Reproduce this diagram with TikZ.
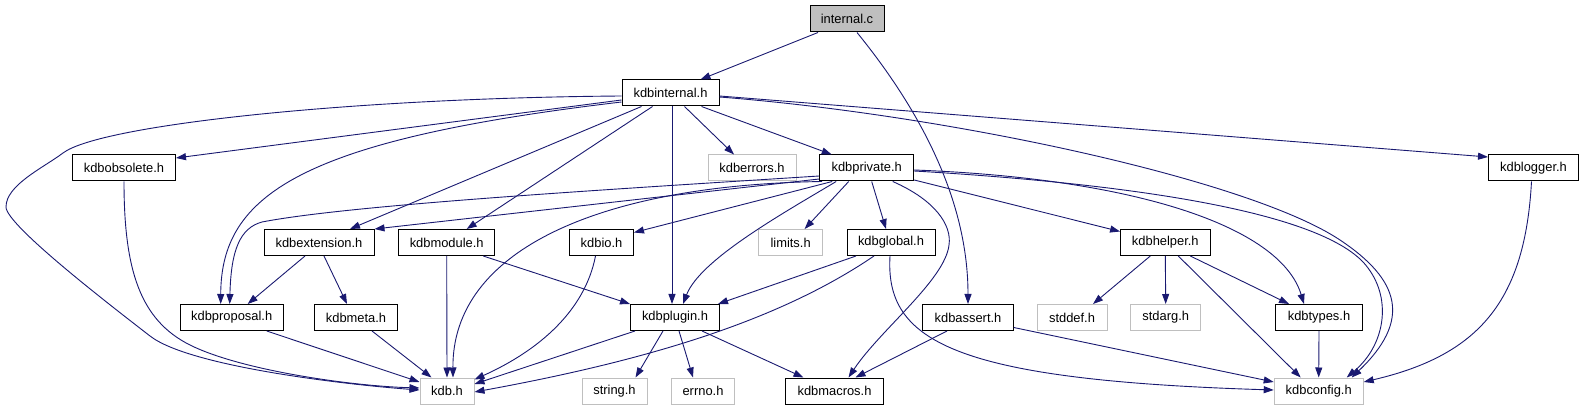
\documentclass[tikz,border=0pt]{standalone}
\usepackage{fontspec}
\setmainfont{Liberation Sans}
\usetikzlibrary{arrows.meta,calc}
\definecolor{edgec}{HTML}{191970}
\definecolor{extc}{HTML}{BFBFBF}
\begin{document}
\begin{tikzpicture}[x=1pt,y=-1pt,
  hdr/.style={draw=black, line width=1pt, rectangle, minimum height=26pt, inner sep=0pt, font=\fontsize{12.9}{15}\selectfont, text=black},
  ext/.style={hdr, draw=extc},
  root/.style={hdr, fill=extc},
  dep/.style={draw=edgec, line width=0.9pt, -{Triangle[length=10pt,width=7pt]}}
]
\useasboundingbox (0,0) rectangle (1584,411);
% row 1
\node[root, minimum width=74pt] (ic) at (847,19) {internal.c};
% row 2
\node[hdr, minimum width=97pt] (ki) at (670.5,93) {kdbinternal.h};
% row 3
\node[hdr, minimum width=103pt] (ko) at (124,168) {kdbobsolete.h};
\node[ext, minimum width=88pt] (ke) at (752,168) {kdberrors.h};
\node[hdr, minimum width=94pt] (kp) at (866.7,168) {kdbprivate.h};
\node[hdr, minimum width=90pt] (kl) at (1533.5,168) {kdblogger.h};
% row 4
\node[hdr, minimum width=110pt] (kx) at (319,242.5) {kdbextension.h};
\node[hdr, minimum width=96pt] (km) at (446.7,242.5) {kdbmodule.h};
\node[hdr, minimum width=64pt] (kio) at (601.5,242.5) {kdbio.h};
\node[ext, minimum width=64pt] (lim) at (790.6,242.5) {limits.h};
\node[hdr, minimum width=88pt] (kg) at (891,242.5) {kdbglobal.h};
\node[hdr, minimum width=89.5pt] (kh) at (1165.3,242.5) {kdbhelper.h};
% row 5
\node[hdr, minimum width=103pt] (kpr) at (231.7,317.5) {kdbproposal.h};
\node[hdr, minimum width=83pt] (kme) at (356,317.5) {kdbmeta.h};
\node[hdr, minimum width=89pt] (kpl) at (675,317.5) {kdbplugin.h};
\node[hdr, minimum width=90.5pt] (ka) at (968,317.5) {kdbassert.h};
\node[ext, minimum width=70pt] (sdd) at (1072,317.5) {stddef.h};
\node[ext, minimum width=69.5pt] (sda) at (1165.7,317.5) {stdarg.h};
\node[hdr, minimum width=87pt] (kt) at (1319,317.5) {kdbtypes.h};
% row 6
\node[ext, minimum width=54pt] (kdb) at (447,391) {kdb.h};
\node[ext, minimum width=65pt] (str) at (614.5,391) {string.h};
\node[ext, minimum width=62.5pt] (err) at (703,391) {errno.h};
\node[hdr, minimum width=97.5pt] (kma) at (834.5,391) {kdbmacros.h};
\node[ext, minimum width=89pt] (kc) at (1318.7,391) {kdbconfig.h};

% internal.c
\draw[dep] ($(ic.south)+(-29,0)$) -- ($(ki.north)+(30,0)$);
\draw[dep] ($(ic.south)+(10,0)$) .. controls (920,110) and (968,200) .. (ka.north);

% kdbinternal.h
\draw[dep] ($(ki.west)+(0,3)$) .. controls (350,98) and (100,125) .. (63,153)
  .. controls (43,168) and (6,185) .. (6,207)
  .. controls (6,225) and (110,305) .. (150,336)
  .. controls (190,367) and (350,385) .. ($(kdb.west)+(0,-1)$);
\draw[dep] ($(ki.west)+(0,7)$) -- ($(ko.east)+(0,-10)$);
\draw[dep] ($(ki.west)+(0,9)$) .. controls (300,140) and (221,195) .. ($(kpr.north)+(-11,0)$);
\draw[dep] ($(ki.south west)+(20,0)$) -- ($(kx.north)+(31,0)$);
\draw[dep] ($(ki.south west)+(31,0)$) -- ($(km.north)+(20,0)$);
\draw[dep] ($(ki.south)+(1.5,0)$) -- ($(kpl.north)+(-3,0)$);
\draw[dep] ($(ki.south)+(14,0)$) -- ($(ke.north)+(-18,0)$);
\draw[dep] ($(ki.south)+(31,0)$) -- ($(kp.north)+(-35,0)$);
\draw[dep] ($(ki.east)+(0,4)$) .. controls (950,115) and (1250,180) .. (1340,240)
  .. controls (1400,280) and (1412,320) .. ($(kc.north)+(33,0)$);
\draw[dep] ($(ki.east)+(0,3)$) -- ($(kl.west)+(0,-11)$);

% kdbobsolete.h
\draw[dep] (ko.south) .. controls (124,270) and (140,320) .. (190,345)
  .. controls (240,370) and (350,386) .. ($(kdb.west)+(0,-3)$);

% kdbprivate.h
\draw[dep] ($(kp.west)+(0,11)$) -- (kx.north east);
\draw[dep] ($(kp.west)+(0,8)$) .. controls (600,190) and (350,205) .. (262,222)
  .. controls (240,228) and (231,250) .. ($(kpr.north)+(-2,0)$);
\draw[dep] ($(kp.south west)+(3,0)$) .. controls (600,185) and (452,250) .. ($(kdb.north)+(6,0)$);
\draw[dep] ($(kp.south west)+(13,0)$) -- ($(kio.east)+(0,-10)$);
\draw[dep] ($(kp.south west)+(17,0)$) .. controls (780,215) and (700,260) .. ($(kpl.north)+(8,0)$);
\draw[dep] ($(kp.south)+(-18,0)$) -- ($(lim.north)+(14,0)$);
\draw[dep] ($(kp.south)+(5,0)$) -- ($(kg.north)+(-5,0)$);
\draw[dep] ($(kp.south)+(26,0)$) .. controls (935,200) and (952,225) .. (949,245)
  .. controls (945,280) and (880,330) .. ($(kma.north)+(14,0)$);
\draw[dep] ($(kp.east)+(0,12)$) -- ($(kh.west)+(0,-11)$);
\draw[dep] ($(kp.east)+(0,2)$) .. controls (1130,178) and (1280,225) .. ($(kt.north)+(-15,0)$);
\draw[dep] ($(kp.east)+(0,3)$) .. controls (1150,185) and (1330,215) .. (1368,268)
  .. controls (1392,300) and (1385,345) .. ($(kc.north)+(28,0)$);

% kdblogger.h
\draw[dep] ($(kl.south)+(-2,0)$) .. controls (1525,300) and (1480,355) .. ($(kc.east)+(0,-9)$);

% kdbextension.h
\draw[dep] ($(kx.south)+(-14,0)$) -- ($(kpr.north)+(16,0)$);
\draw[dep] ($(kx.south)+(5,0)$) -- ($(kme.north)+(-9,0)$);

% kdbmodule.h
\draw[dep] (km.south) -- (kdb.north);
\draw[dep] ($(km.south east)+(-12,0)$) -- (kpl.north west);

% kdbio.h
\draw[dep] ($(kio.south)+(-6,0)$) .. controls (585,310) and (540,350) .. ($(kdb.north east)+(0,2)$);

% kdbglobal.h
\draw[dep] ($(kg.south)+(-35,0)$) -- ($(kpl.north east)+(-2,0)$);
\draw[dep] ($(kg.south)+(-17,0)$) .. controls (780,320) and (650,360) .. ($(kdb.east)+(0,1)$);
\draw[dep] ($(kg.south)+(-1,0)$) .. controls (885,340) and (950,380) .. ($(kc.west)+(0,-1)$);

% kdbhelper.h
\draw[dep] ($(kh.south)+(-15,0)$) -- ($(sdd.north)+(21,0)$);
\draw[dep] (kh.south) -- (sda.north);
\draw[dep] ($(kh.south)+(13,0)$) -- ($(kc.north)+(-18,0)$);
\draw[dep] ($(kh.south)+(25,0)$) -- ($(kt.north)+(-30,0)$);

% kdbproposal.h, kdbmeta.h
\draw[dep] ($(kpr.south)+(35,0)$) -- ($(kdb.west)+(0,-9)$);
\draw[dep] ($(kme.south)+(16,0)$) -- ($(kdb.north west)+(12,0)$);

% kdbplugin.h
\draw[dep] ($(kpl.south west)+(5,0)$) -- ($(kdb.east)+(0,-7)$);
\draw[dep] ($(kpl.south)+(-12,0)$) -- ($(str.north)+(21,0)$);
\draw[dep] ($(kpl.south)+(4,0)$) -- ($(err.north)+(-10,0)$);
\draw[dep] ($(kpl.south)+(27,0)$) -- ($(kma.north)+(-31,0)$);

% kdbassert.h
\draw[dep] ($(ka.south)+(-21,0)$) -- ($(kma.north)+(21,0)$);
\draw[dep] ($(ka.east)+(0,10)$) -- ($(kc.west)+(0,-9)$);

% kdbtypes.h
\draw[dep] (kt.south) -- (kc.north);
\end{tikzpicture}
\end{document}
